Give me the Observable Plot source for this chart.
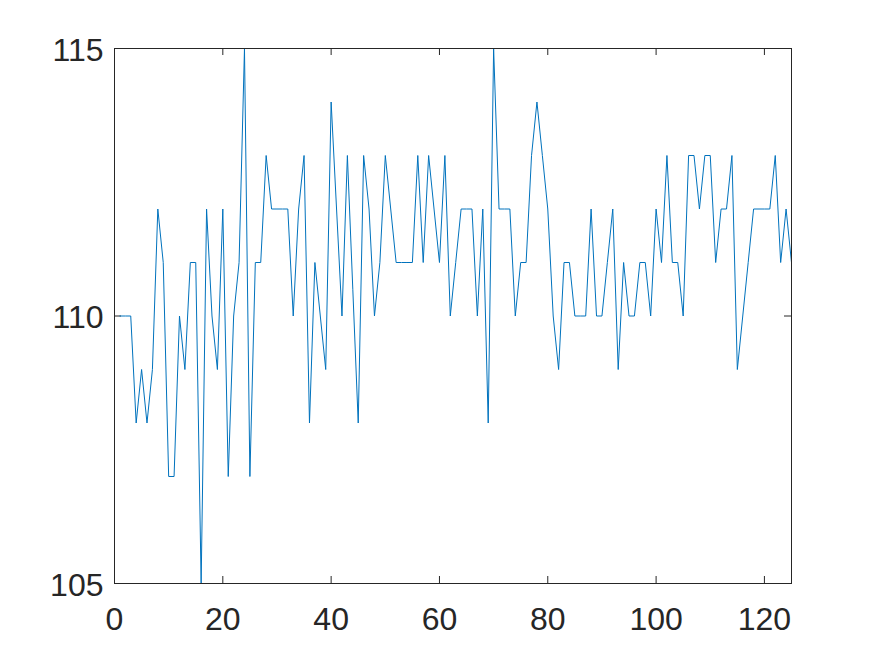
<!DOCTYPE html>
<html>
<head>
<meta charset="utf-8">
<script src="https://cdn.jsdelivr.net/npm/d3@7"></script>
<script src="https://cdn.jsdelivr.net/npm/@observablehq/plot@0.6"></script>
<style>
  html, body { margin: 0; padding: 0; background: #ffffff; }
  #chart { width: 875px; height: 656px; }
</style>
</head>
<body>
<div id="chart"></div>
<script>
// Sample values (x = 1..125)
const samples = [
  110,110,110,108,109,108,109,112,111,107,
  107,110,109,111,111,105,112,110,109,112,
  107,110,111,115,107,111,111,113,112,112,
  112,112,110,112,113,108,111,110,109,114,
  112,110,113,110.5,108,113,112,110,111,113,
  112,111,111,111,111,113,111,113,112,111,
  113,110,111,112,112,112,110,112,108,115,
  112,112,112,110,111,111,113,114,113,112,
  110,109,111,111,110,110,110,112,110,110,
  111,112,109,111,110,110,111,111,110,112,
  111,113,111,111,110,113,113,112,113,113,
  111,112,112,113,109,110,111,112,112,112,
  112,113,111,112,111
];
const xTicks = [0, 20, 40, 60, 80, 100, 120];
const yTicks = [105, 110, 115];
const xDomain = [0, 125];
const yDomain = [105, 115];

const points = samples.map((v, i) => ({x: i + 1, y: v}));

const W = 875, H = 656;
const mL = 114, mR = 84, mT = 48, mB = 73;
const fw = W - mL - mR, fh = H - mT - mB;
const tick = 7;
const axisColor = "#262626";
const fs = 32;

const chart = Plot.plot({
  width: W,
  height: H,
  marginLeft: mL,
  marginRight: mR,
  marginTop: mT,
  marginBottom: mB,
  style: {fontFamily: "'Liberation Sans', Arial, sans-serif", fontSize: fs + "px", color: axisColor, background: "#ffffff"},
  x: {domain: xDomain},
  y: {domain: yDomain},
  marks: [
    Plot.axisX({ticks: xTicks, tickSize: 0, tickPadding: 24, label: null, fontSize: fs, fill: axisColor}),
    Plot.axisY({ticks: yTicks, tickSize: 0, tickPadding: 11, label: null, fontSize: fs, fill: axisColor, dy: 2}),
    Plot.tickX(xTicks, {x: d => d, insetTop: fh - tick, stroke: axisColor, strokeWidth: 1}),
    Plot.tickX(xTicks, {x: d => d, insetBottom: fh - tick, stroke: axisColor, strokeWidth: 1}),
    Plot.tickY(yTicks, {y: d => d, insetLeft: fw - tick, stroke: axisColor, strokeWidth: 1}),
    Plot.tickY(yTicks, {y: d => d, insetRight: fw - tick, stroke: axisColor, strokeWidth: 1}),
    Plot.line(points, {x: "x", y: "y", stroke: "#0072BD", strokeWidth: 1}),
    Plot.frame({stroke: axisColor, strokeWidth: 1})
  ]
});
document.getElementById("chart").appendChild(chart);
</script>
</body>
</html>
